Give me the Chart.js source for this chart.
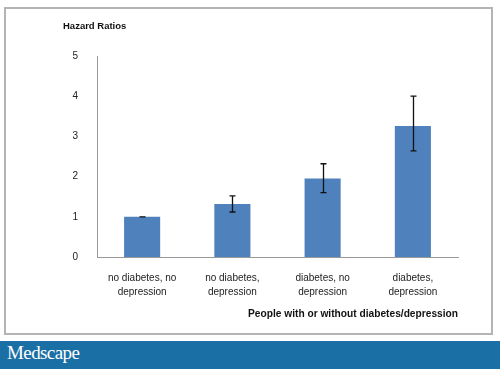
<!DOCTYPE html>
<html>
<head>
<meta charset="utf-8">
<script src="https://cdn.jsdelivr.net/npm/chart.js@4"></script>
<style>
  body { margin: 0; width: 500px; height: 369px; background: #fff; position: relative; overflow: hidden; font-family: "Liberation Sans", Arial, sans-serif; }
  #frame { position: absolute; left: 4px; top: 7px; width: 489px; height: 328px; border: 2px solid #b4b4b4; box-sizing: border-box; }
  #wrap { position: absolute; left: 0; top: 0; width: 500px; height: 340px; }
  #ytitle { position: absolute; left: 63px; top: 20px; font-size: 9.5px; font-weight: bold; color: #111; }
  #banner { position: absolute; left: 0; top: 341px; width: 500px; height: 28px; background: #1a6fa5; }
  #banner span { position: absolute; left: 7px; top: 1px; color: #fff; font-family: "Liberation Serif", "DejaVu Serif", serif; font-size: 19px; letter-spacing: -0.6px; }
</style>
</head>
<body>
<div id="frame"></div>
<div id="wrap"><canvas id="hrChart" width="500" height="340"></canvas></div>
<div id="ytitle">Hazard Ratios</div>
<div id="banner"><span>Medscape</span></div>
<script>
const groups = [
    ["no diabetes, no", "depression"],
    ["no diabetes,", "depression"],
    ["diabetes, no", "depression"],
    ["diabetes,", "depression"]
];
const hazardRatios = [1.0, 1.32, 1.95, 3.26];
const ciLow = [1.0, 1.12, 1.6, 2.64];
const ciHigh = [1.0, 1.52, 2.32, 4.0];
const yTicks = [0, 1, 2, 3, 4, 5];

// Plugin para desenhar as barras de erro
const errorBars = {
    id: "errorBars",
    afterDatasetsDraw(chart) {
        const ctx = chart.ctx;
        const meta = chart.getDatasetMeta(0);
        const yScale = chart.scales.y;
        ctx.save();
        ctx.strokeStyle = "#111";
        ctx.lineWidth = 1.3;
        meta.data.forEach((bar, i) => {
            const x = Math.round(bar.x) + 0.5;
            const yHi = yScale.getPixelForValue(ciHigh[i]);
            const yLo = yScale.getPixelForValue(ciLow[i]);
            ctx.beginPath();
            ctx.moveTo(x, yHi);
            ctx.lineTo(x, yLo);
            ctx.moveTo(x - 3, yHi);
            ctx.lineTo(x + 3, yHi);
            ctx.moveTo(x - 3, yLo);
            ctx.lineTo(x + 3, yLo);
            ctx.stroke();
        });
        ctx.restore();
    }
};

new Chart(document.getElementById("hrChart").getContext("2d"), {
    type: "bar",
    data: {
        labels: groups,
        datasets: [{
            data: hazardRatios,
            backgroundColor: "#4f81bd",
            barPercentage: 0.8,
            categoryPercentage: 0.5
        }]
    },
    options: {
        responsive: false,
        animation: false,
        layout: { padding: { left: 67, top: 56, right: 42, bottom: 20 } },
        plugins: { legend: { display: false }, tooltip: { enabled: false } },
        scales: {
            y: {
                min: 0,
                max: 5,
                afterFit(scale) { scale.width = 30; },
                afterBuildTicks(scale) { scale.ticks = yTicks.map(v => ({ value: v })); },
                grid: { display: false },
                border: { color: "#999", width: 1 },
                ticks: { color: "#222", font: { family: "Liberation Sans", size: 10 }, padding: 11 }
            },
            x: {
                afterFit(scale) { scale.height = 63; },
                grid: { display: false },
                border: { color: "#999", width: 1 },
                ticks: { color: "#222", font: { family: "Liberation Sans", size: 10, lineHeight: 1.4 }, padding: 6, maxRotation: 0 },
                title: {
                    display: true,
                    text: "People with or without diabetes/depression",
                    align: "end",
                    color: "#111",
                    font: { family: "Liberation Sans", size: 10.2, weight: "bold" },
                    padding: { top: 0, bottom: 0 }
                }
            }
        }
    },
    plugins: [errorBars]
});
</script>
</body>
</html>
